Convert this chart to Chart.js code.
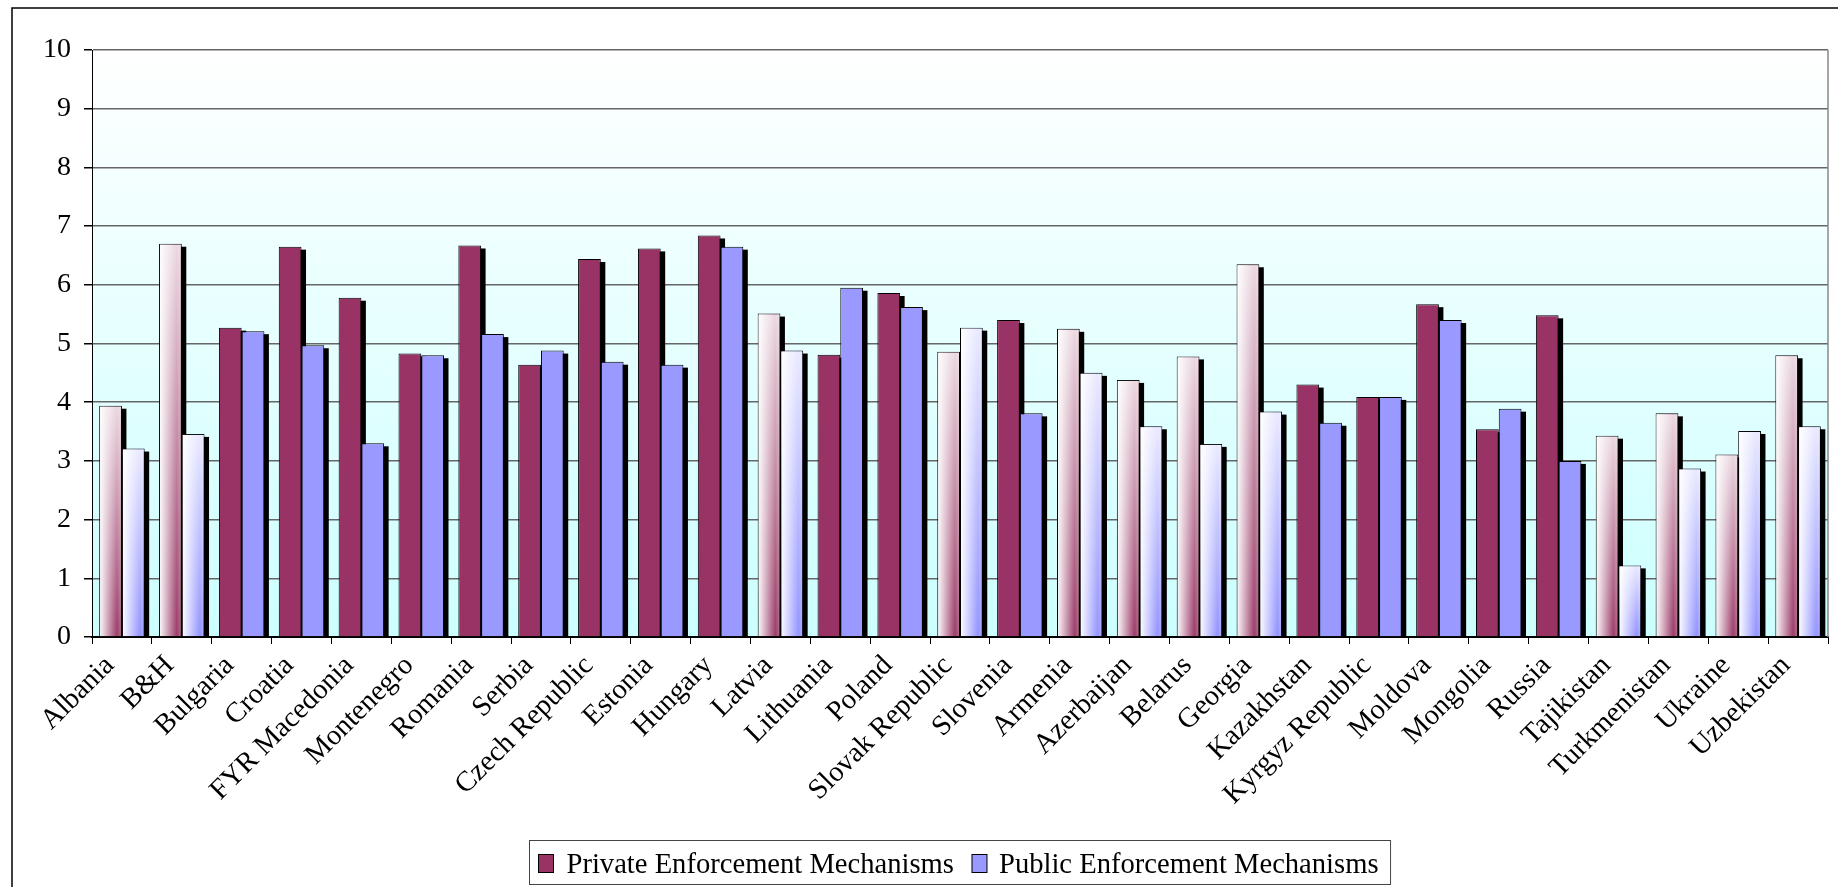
<!DOCTYPE html>
<html>
<head>
<meta charset="utf-8">
<script src="https://cdn.jsdelivr.net/npm/chart.js@4.4.1/dist/chart.umd.min.js"></script>
<style>
    html, body { margin: 0; padding: 0; background: #fff; }
    canvas { display: block; }
</style>
</head>
<body>
<canvas id="myChart" width="1838" height="887"></canvas>
<script>
const countries = [
    "Albania", "B&H", "Bulgaria", "Croatia", "FYR Macedonia", "Montenegro", "Romania",
    "Serbia", "Czech Republic", "Estonia", "Hungary", "Latvia", "Lithuania", "Poland",
    "Slovak Republic", "Slovenia", "Armenia", "Azerbaijan", "Belarus", "Georgia",
    "Kazakhstan", "Kyrgyz Republic", "Moldova", "Mongolia", "Russia", "Tajikistan",
    "Turkmenistan", "Ukraine", "Uzbekistan",
];
const privateScores = [
    3.94, 6.70, 5.27, 6.65, 5.78, 4.83, 6.67, 4.64, 6.44, 6.62, 6.84, 5.51, 4.81, 5.86,
    4.86, 5.40, 5.25, 4.38, 4.78, 6.35, 4.30, 4.09, 5.67, 3.54, 5.48, 3.43, 3.81, 3.11, 4.80,
];
const publicScores = [
    3.21, 3.46, 5.21, 4.97, 3.30, 4.80, 5.16, 4.88, 4.69, 4.64, 6.65, 4.88, 5.95, 5.62,
    5.27, 3.81, 4.50, 3.59, 3.29, 3.84, 3.65, 4.09, 5.40, 3.89, 3.00, 1.22, 2.87, 3.51, 3.59,
];
const seriesNames = ["Private Enforcement Mechanisms", "Public Enforcement Mechanisms"];
const yMin = 0, yMax = 10, yStep = 1;

// countries whose bars are drawn with the shaded (gradient) fill
const shaded = new Set([
    "Albania", "B&H", "Latvia", "Slovak Republic", "Armenia", "Azerbaijan", "Belarus",
    "Georgia", "Tajikistan", "Turkmenistan", "Ukraine", "Uzbekistan",
]);

const FONT = "'Liberation Serif', 'Times New Roman', serif";
const FONT_SIZE = 28.6;
const solidColors = ["#993366", "#9999ff"];
const CAT_PCT = 0.76;

function barFill(c) {
    const ds = c.datasetIndex;
    const solid = solidColors[ds];
    if (c.type !== "data" || !shaded.has(countries[c.dataIndex])) return solid;
    const chart = c.chart;
    const xs = chart.scales.x;
    if (!xs || !chart.chartArea) return solid;
    const mid = xs.getPixelForValue(c.dataIndex);
    const w = (xs.width / countries.length) * CAT_PCT / 2;
    const left = ds === 0 ? mid - w : mid;
    const g = chart.ctx.createLinearGradient(left, 0, left + w, 0);
    if (ds === 0) {
        g.addColorStop(0, "#ffffff");
        g.addColorStop(0.78, "#9c3d6a");
        g.addColorStop(1, "#b8728f");
    } else {
        g.addColorStop(0, "#ffffff");
        g.addColorStop(0.8, "#9494ff");
        g.addColorStop(1, "#b0b0ff");
    }
    return g;
}

const decor = {
    id: "decor",
    beforeDraw(chart) {
        const { ctx, chartArea: a } = chart;
        ctx.save();
        ctx.fillStyle = "#fff";
        ctx.fillRect(0, 0, chart.width, chart.height);
        const bg = ctx.createLinearGradient(0, a.top, 0, a.bottom);
        bg.addColorStop(0, "#ffffff");
        bg.addColorStop(1, "#ccffff");
        ctx.fillStyle = bg;
        ctx.fillRect(a.left, a.top, a.right - a.left, a.bottom - a.top);
        // outer frame
        ctx.strokeStyle = "#000";
        ctx.lineWidth = 1.5;
        ctx.strokeRect(12, 8, chart.width + 20, chart.height + 20);
        ctx.restore();
    },
    beforeDatasetsDraw(chart) {
        const { ctx, chartArea: a } = chart;
        ctx.save();
        ctx.beginPath();
        ctx.rect(a.left, a.top - 5, a.right - a.left + 10, a.bottom - a.top + 5);
        ctx.clip();
        ctx.fillStyle = "#000";
        chart.data.datasets.forEach((d, i) => {
            chart.getDatasetMeta(i).data.forEach((bar) => {
                const p = bar.getProps(["x", "y", "base", "width"], true);
                ctx.fillRect(p.x - p.width / 2 + 4.5, p.y + 3, p.width, p.base - p.y - 3);
            });
        });
        // right edge of the plot
        ctx.strokeStyle = "#888";
        ctx.lineWidth = 1.5;
        ctx.beginPath();
        ctx.moveTo(a.right, a.top);
        ctx.lineTo(a.right, a.bottom);
        ctx.stroke();
        ctx.restore();
    },
    afterDatasetsDraw(chart) {
        const { ctx } = chart;
        ctx.save();
        chart.data.datasets.forEach((d, i) => {
            chart.getDatasetMeta(i).data.forEach((bar, j) => {
                if (!shaded.has(countries[j])) return;
                const p = bar.getProps(["x", "y", "base", "width"], true);
                const g = ctx.createLinearGradient(0, p.y, 0, p.base);
                g.addColorStop(0, "rgba(255,255,255,0.8)");
                g.addColorStop(1, "rgba(255,255,255,0)");
                ctx.fillStyle = g;
                ctx.fillRect(p.x - p.width / 2 + 1, p.y + 1, p.width - 2, p.base - p.y - 1);
            });
        });
        ctx.restore();
    },
    afterDraw(chart) {
        const { ctx, chartArea: a } = chart;
        ctx.save();
        ctx.font = FONT_SIZE + "px " + FONT;
        ctx.textBaseline = "alphabetic";
        const w1 = ctx.measureText(seriesNames[0]).width;
        const w2 = ctx.measureText(seriesNames[1]).width;
        const total = 9 + 15 + 13 + w1 + 18 + 15 + 12 + w2 + 12;
        const left = Math.round((a.left + a.right) / 2 - total / 2) + 0.5;
        const top = 840.5;
        ctx.strokeStyle = "#444";
        ctx.lineWidth = 1;
        ctx.strokeRect(left, top, total, 44);
        let x = left + 9;
        [w1, w2].forEach((w, i) => {
            ctx.fillStyle = solidColors[i];
            ctx.fillRect(x, top + 14, 15, 18);
            ctx.strokeStyle = "#000";
            ctx.strokeRect(x, top + 14, 15, 18);
            x += 15 + (i === 0 ? 13 : 12);
            ctx.fillStyle = "#000";
            ctx.fillText(seriesNames[i], x, top + 32.5);
            x += w + 18;
        });
        ctx.restore();
    },
};

Chart.defaults.font.family = FONT;
Chart.defaults.color = "#000";

const barStyle = {
    categoryPercentage: CAT_PCT,
    barPercentage: 1,
    backgroundColor: barFill,
    borderColor: "#000",
    borderWidth: 1,
};

const ctx = document.getElementById("myChart").getContext("2d");
const myChart = new Chart(ctx, {
    type: "bar",
    data: {
        labels: countries,
        datasets: [
            { label: seriesNames[0], data: privateScores, ...barStyle },
            { label: seriesNames[1], data: publicScores, ...barStyle },
        ],
    },
    options: {
        responsive: false,
        devicePixelRatio: 1,
        animation: false,
        layout: { padding: { left: 12, top: 50, right: 10, bottom: 40 } },
        plugins: {
            colors: { enabled: false },
            legend: { display: false },
            tooltip: { enabled: false },
        },
        scales: {
            x: {
                afterFit: (s) => { s.height = 210; },
                grid: {
                    offset: true,
                    drawOnChartArea: false,
                    drawTicks: true,
                    tickLength: 7,
                    color: "#000",
                },
                border: { color: "#000", width: 2 },
                ticks: {
                    autoSkip: false,
                    maxRotation: 45,
                    minRotation: 45,
                    labelOffset: -12,
                    padding: 5,
                    font: { size: FONT_SIZE },
                },
            },
            y: {
                min: yMin,
                max: yMax,
                afterFit: (s) => { s.width = 80; },
                grid: {
                    color: "#666",
                    lineWidth: 1.5,
                    tickLength: 8,
                    tickColor: "#000",
                },
                border: { color: "#000", width: 1 },
                ticks: {
                    stepSize: yStep,
                    padding: 13,
                    font: { size: 28 },
                },
            },
        },
    },
    plugins: [decor],
});
</script>
</body>
</html>
